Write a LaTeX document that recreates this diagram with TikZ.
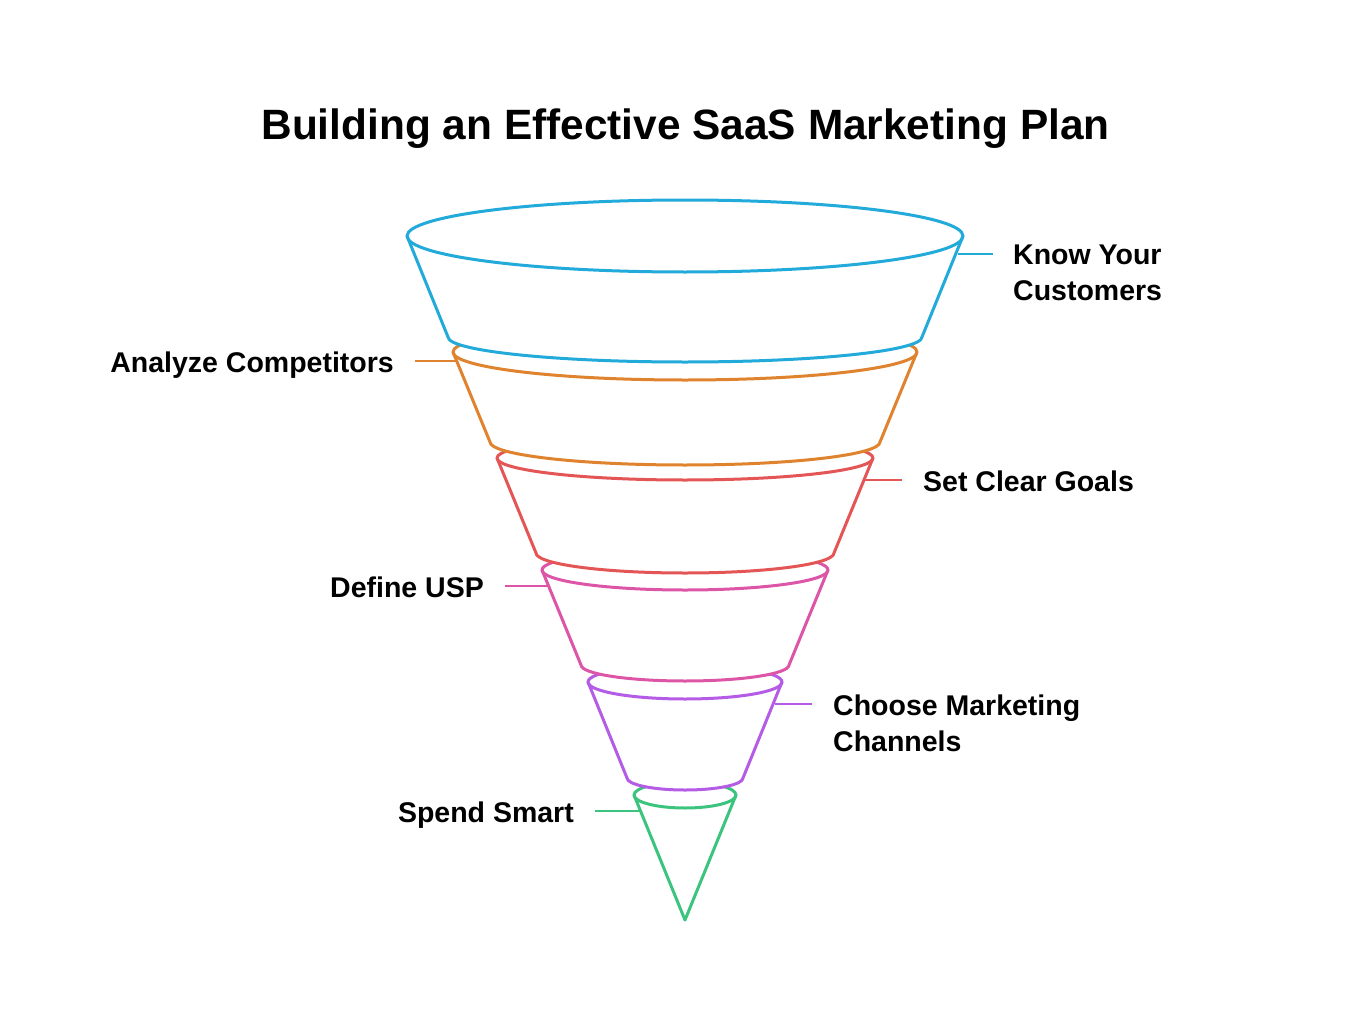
\documentclass[tikz,border=0pt]{standalone}
\usepackage{fontspec}
\setmainfont{Liberation Sans}
\usepackage{xcolor}
\usepackage{tikz}
\usetikzlibrary{positioning}

\definecolor{segblue}{HTML}{22AADA}
\definecolor{segorange}{HTML}{E0832F}
\definecolor{segred}{HTML}{E45656}
\definecolor{segpink}{HTML}{DD55A6}
\definecolor{segpurple}{HTML}{B45CE6}
\definecolor{seggreen}{HTML}{3CC47E}

\begin{document}
\begin{tikzpicture}[x=1pt,y=-1pt,
  seg/.style={line width=3pt,fill=white,line join=round},
  rim/.style={line width=3pt},
  lead/.style={line width=2.8pt},
  lab/.style={font=\fontsize{28.5}{36}\selectfont\bfseries,inner sep=0pt,align=left}]
  \useasboundingbox (0,0) rectangle (1371,1030);

  \node[font=\fontsize{42.4}{50}\selectfont\bfseries,anchor=base,inner sep=0pt] (title) at (685.5,140)
    {Building an Effective SaaS Marketing Plan};

  % cone tip first, upper rings cover the back rims
  \filldraw[seg,draw=seggreen] (634,795) -- (685,920) -- (736,795)
    arc[start angle=0,end angle=-180,x radius=51,y radius=13] -- cycle;
  \draw[rim,draw=seggreen] (634,795) arc[start angle=180,end angle=0,x radius=51,y radius=13];

  \foreach \c/\yt/\at/\bt/\yb/\ab/\bb in {
      segpurple/682/97/17/778/58/12,
      segpink/570/143/20/665/104/16,
      segred/458/188/22/553/149/20,
      segorange/352/232/28/442/195/23,
      segblue/236/278/36/337/237/25} {
    \filldraw[seg,draw=\c] ({685-\at},\yt) -- ({685-\ab},\yb)
      arc[start angle=180,end angle=0,x radius=\ab,y radius=\bb]
      -- ({685+\at},\yt)
      arc[start angle=0,end angle=-180,x radius=\at,y radius=\bt] -- cycle;
    \draw[rim,draw=\c] ({685-\at},\yt) arc[start angle=180,end angle=0,x radius=\at,y radius=\bt];
  }

  % leaders
  \coordinate (s1) at (958,254);  \coordinate (e1) at (993,254);
  \coordinate (s2) at (458,361);  \coordinate (e2) at (415,361);
  \coordinate (s3) at (864,480);  \coordinate (e3) at (902,480);
  \coordinate (s4) at (548,586);  \coordinate (e4) at (505,586);
  \coordinate (s5) at (775,704);  \coordinate (e5) at (812,704);
  \coordinate (s6) at (641,811);  \coordinate (e6) at (595,811);
  \draw[lead,segblue] (s1) -- (e1);
  \draw[lead,segorange] (s2) -- (e2);
  \draw[lead,segred] (s3) -- (e3);
  \draw[lead,segpink] (s4) -- (e4);
  \draw[lead,segpurple] (s5) -- (e5);
  \draw[lead,seggreen] (s6) -- (e6);

  \node[lab,anchor=base west] (know) at (1013,300) {Know Your\\Customers};
  \node[lab,anchor=base east] (comp) at (394,372) {Analyze Competitors};
  \node[lab,anchor=base west] (goals) at (923,491) {Set Clear Goals};
  \node[lab,anchor=base east] (usp) at (484,597) {Define USP};
  \node[lab,anchor=base west] (chan) at (833,751) {Choose Marketing\\Channels};
  \node[lab,anchor=base east] (spend) at (574,822) {Spend Smart};
\end{tikzpicture}
\end{document}
